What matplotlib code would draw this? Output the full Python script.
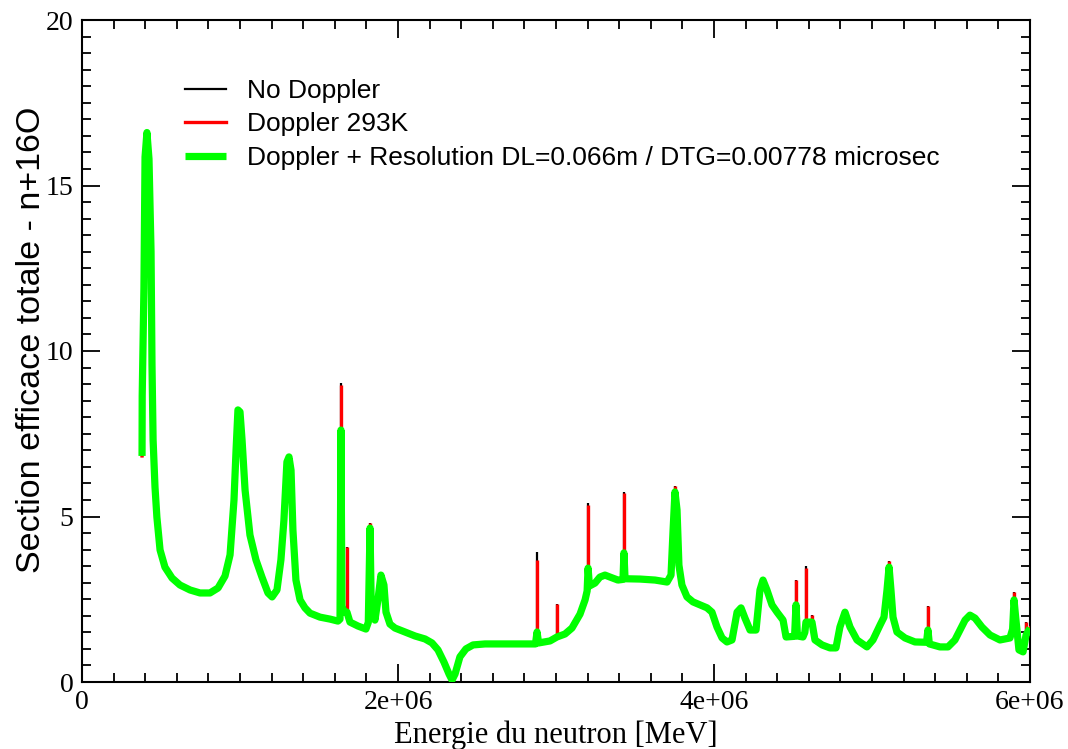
import numpy as np
import matplotlib
matplotlib.use("Agg")
import matplotlib.pyplot as plt
from matplotlib.ticker import MultipleLocator, FixedLocator

# ---------------- data (energy in units of 1e6, cross section) ----------------
ENERGY_UNIT = 1e6

energy_green = [
    0.380, 0.381, 0.392, 0.399, 0.411, 0.424, 0.437, 0.443, 0.450, 0.462, 0.474,
    0.494, 0.525, 0.570, 0.620, 0.684, 0.747, 0.810, 0.861, 0.905, 0.937, 0.962,
    0.975, 0.987, 1.000, 1.013, 1.032, 1.063, 1.101, 1.139, 1.177, 1.203, 1.234,
    1.259, 1.278, 1.297, 1.310, 1.323, 1.335, 1.354, 1.380, 1.411, 1.443, 1.506,
    1.570, 1.620, 1.633, 1.639, 1.645, 1.658, 1.677, 1.696, 1.747, 1.797, 1.812,
    1.823, 1.830, 1.854, 1.873, 1.892, 1.911, 1.924, 1.949, 1.981, 2.044, 2.108,
    2.171, 2.215, 2.253, 2.291, 2.323, 2.342, 2.361, 2.392, 2.430, 2.475, 2.551,
    2.690, 2.870, 2.880, 2.890, 2.962, 3.006, 3.057, 3.101, 3.152, 3.184, 3.197,
    3.203, 3.212, 3.247, 3.278, 3.310, 3.342, 3.392, 3.424, 3.430, 3.437, 3.532,
    3.627, 3.703, 3.728, 3.741, 3.753, 3.766, 3.778, 3.797, 3.829, 3.867, 3.911,
    3.956, 3.987, 4.019, 4.051, 4.082, 4.114, 4.146, 4.171, 4.196, 4.228, 4.266,
    4.291, 4.310, 4.335, 4.367, 4.399, 4.437, 4.456, 4.510, 4.519, 4.528, 4.563,
    4.575, 4.582, 4.608, 4.620, 4.639, 4.684, 4.734, 4.772, 4.797, 4.829, 4.861,
    4.905, 4.968, 5.006, 5.051, 5.076, 5.095, 5.108, 5.120, 5.133, 5.158, 5.209,
    5.272, 5.345, 5.354, 5.363, 5.430, 5.481, 5.525, 5.557, 5.589, 5.620, 5.652,
    5.696, 5.747, 5.810, 5.873, 5.890, 5.899, 5.908, 5.930, 5.956, 5.975, 6.000,
]
xs_green = [
    6.83, 8.64, 11.90, 15.86, 16.60, 15.80, 13.00, 9.58, 7.31, 5.89, 4.98,
    3.99, 3.47, 3.14, 2.93, 2.78, 2.69, 2.69, 2.84, 3.20, 3.84, 5.50,
    7.00, 8.22, 8.16, 7.31, 5.80, 4.44, 3.69, 3.17, 2.69, 2.57, 2.78,
    3.69, 4.89, 6.65, 6.80, 6.40, 4.59, 3.08, 2.48, 2.24, 2.08, 1.96,
    1.90, 1.84, 1.90, 7.61, 2.30, 2.11, 2.11, 1.81, 1.69, 1.60, 1.80,
    4.65, 2.48, 1.87, 2.48, 3.23, 2.93, 2.11, 1.75, 1.63, 1.51, 1.39,
    1.30, 1.18, 0.97, 0.60, 0.24, 0.06, 0.24, 0.76, 1.00, 1.12, 1.15,
    1.15, 1.15, 1.51, 1.18, 1.24, 1.36, 1.45, 1.63, 2.05, 2.48, 2.75,
    3.44, 2.90, 2.99, 3.17, 3.23, 3.17, 3.08, 3.10, 3.90, 3.12, 3.11,
    3.08, 3.02, 3.23, 4.59, 5.74, 5.20, 3.53, 2.93, 2.57, 2.42, 2.33,
    2.24, 2.11, 1.66, 1.33, 1.21, 1.27, 2.11, 2.24, 1.93, 1.57, 1.57,
    2.78, 3.08, 2.78, 2.33, 2.11, 1.87, 1.36, 1.38, 2.33, 1.39, 1.36,
    1.50, 1.81, 1.81, 1.81, 1.27, 1.12, 1.03, 1.03, 1.66, 2.11, 1.66,
    1.27, 1.06, 1.27, 1.72, 1.96, 2.78, 3.47, 2.78, 1.96, 1.51, 1.33,
    1.21, 1.20, 1.57, 1.15, 1.06, 1.06, 1.27, 1.57, 1.87, 2.02, 1.93,
    1.66, 1.42, 1.27, 1.33, 1.60, 2.48, 2.02, 0.97, 0.91, 1.42, 1.63,
]

# narrow resonances that are smeared out by the resolution function
spike_energy = [1.639, 1.677, 1.823, 2.880, 3.006, 3.203, 3.430, 3.753,
                4.519, 4.582, 4.620, 5.108, 5.354, 5.899, 5.975]
spike_red = [8.97, 4.08, 4.80, 3.69, 2.36, 5.35, 5.71, 5.92,
             3.08, 3.44, 2.02, 3.65, 2.30, 2.72, 1.81]
spike_black = [9.03, 4.08, 4.80, 3.92, 2.36, 5.40, 5.75, 5.92,
               3.08, 3.50, 2.02, 3.65, 2.30, 2.72, 1.81]

legend_labels = ["No Doppler", "Doppler 293K",
                 "Doppler + Resolution DL=0.066m / DTG=0.00778 microsec"]
x_tick_values = [0, 2e6, 4e6, 6e6]
x_tick_labels = ["0", "2e+06", "4e+06", "6e+06"]
y_tick_values = [0, 5, 10, 15, 20]
y_tick_labels = ["0", "5", "10", "15", "20"]

eg = np.array(energy_green) * ENERGY_UNIT
yg = np.array(xs_green)
es = np.array(spike_energy) * ENERGY_UNIT
base_s = np.interp(es, eg, yg)

# ---------------- figure ----------------
W, H, DPI = 1068, 749, 100
fig = plt.figure(figsize=(W / DPI, H / DPI), dpi=DPI)
ax = fig.add_axes([82 / W, 1 - 682 / H, (1030 - 82) / W, (682 - 20) / H])

LW_K, LW_R, LW_G = 1.6, 2.4, 5.2
ax.plot(eg, yg, color="black", lw=LW_K, label=legend_labels[0], zorder=2)
ax.vlines(es, base_s, spike_black, color="black", lw=LW_K, zorder=2,
          capstyle="butt")
ax.plot(eg, yg, color="#ff0000", lw=LW_R, label=legend_labels[1], zorder=3)
ax.vlines(es, base_s, spike_red, color="#ff0000", lw=LW_R, zorder=3,
          capstyle="butt")
ax.plot(eg, yg, color="#00ff00", lw=LW_G, label=legend_labels[2], zorder=4,
        solid_joinstyle="round", solid_capstyle="butt")

ax.set_xlim(0, 6e6)
ax.set_ylim(0, 20)

serif = ["Liberation Serif", "DejaVu Serif"]
sans = ["Liberation Sans", "DejaVu Sans"]

ax.xaxis.set_major_locator(FixedLocator(x_tick_values))
ax.set_xticklabels(x_tick_labels, fontfamily=serif, fontsize=20)
ax.xaxis.set_minor_locator(MultipleLocator(2e5))
ax.yaxis.set_major_locator(FixedLocator(y_tick_values))
ax.set_yticklabels(y_tick_labels, fontfamily=serif, fontsize=20)
ax.yaxis.set_minor_locator(MultipleLocator(0.5))

ax.tick_params(which="both", direction="in", top=True, right=True,
               width=1.3, colors="black")
ax.tick_params(which="major", length=13, pad=6)
ax.tick_params(which="minor", length=6.5)
for s in ax.spines.values():
    s.set_linewidth(1.5)

ax.set_xlabel("Energie du neutron [MeV]", fontfamily=serif, fontsize=22,
              labelpad=4)
ax.set_ylabel("Section efficace totale - n+16O", fontfamily=sans, fontsize=24.5)
ax.yaxis.set_label_coords(-(82 - 47) / 948, 0.517)

leg = ax.legend(loc="upper left", bbox_to_anchor=((185 - 82) / 948, (682 - 79) / 662),
                frameon=False, prop={"family": sans, "size": 19},
                handlelength=1.55, handletextpad=0.8, labelspacing=0.36,
                borderpad=0, borderaxespad=0)

fig.savefig("out.png", dpi=DPI)
